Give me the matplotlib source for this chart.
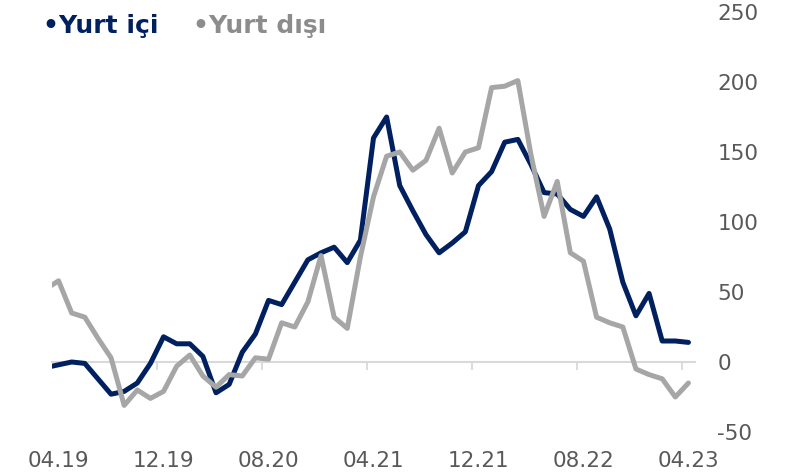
import numpy as np
import pandas as pd
import matplotlib
matplotlib.use("Agg")
import matplotlib.pyplot as plt

# monthly series, 03.19 .. 04.23 (03.19 sits just outside the visible range)
months = pd.period_range("2019-03", "2023-04", freq="M")
yurt_ici = [
    -4, -2, 0, -1, -12, -23, -21, -15, -1, 18,
    13, 13, 4, -22, -16, 7, 20, 44, 41, 57,
    73, 78, 82, 71, 87, 160, 175, 126, 108, 91,
    78, 85, 93, 126, 136, 157, 159, 141, 121, 120,
    109, 104, 118, 95, 57, 33, 49, 15, 15, 14,
]
yurt_disi = [
    52, 58, 35, 32, 17, 3, -31, -20, -26, -21,
    -3, 5, -10, -18, -9, -10, 3, 2, 28, 25,
    43, 76, 32, 24, 75, 118, 147, 150, 137, 144,
    167, 135, 150, 153, 196, 197, 201, 148, 104, 129,
    78, 72, 32, 28, 25, -5, -9, -12, -25, -15,
]
tick_labels = ["04.19", "12.19", "08.20", "04.21", "12.21", "08.22", "04.23"]
y_ticks = [-50, 0, 50, 100, 150, 200, 250]

NAVY = "#002060"
GRAY = "#a6a6a6"
TEXT = "#595959"
AXIS = "#d9d9d9"

plt.rcParams["axes.unicode_minus"] = False

W, H = 788, 475
fig = plt.figure(figsize=(W / 100, H / 100), dpi=100)
ax = fig.add_axes([52 / W, 1 - 432 / H, (695 - 52) / W, (432 - 12) / H])

x = np.arange(len(months)) - 1  # 04.19 -> 0
ax.plot(x, yurt_ici, color=NAVY, lw=3.6, solid_joinstyle="round",
        solid_capstyle="round", zorder=3)
ax.plot(x, yurt_disi, color=GRAY, lw=3.6, solid_joinstyle="round",
        solid_capstyle="round", zorder=4)

ax.set_xlim(-0.5, 48.5)
ax.set_ylim(-50, 250)
for s in ax.spines.values():
    s.set_visible(False)

# labels at the bottom, one every 8 months
lab_pos = [list(months.strftime("%m.%y")).index(t) - 1 for t in tick_labels]
ax.set_xticks(lab_pos)
ax.set_xticklabels(tick_labels)
ax.tick_params(axis="x", length=0, pad=14, labelsize=15.5, labelcolor=TEXT)

ax.yaxis.tick_right()
ax.set_yticks(y_ticks)
ax.tick_params(axis="y", length=0, pad=16, labelsize=15.5, labelcolor=TEXT)

# category axis line crossing at zero, tick marks between categories
zero_frac = (0 - (-50)) / 300
sec = ax.secondary_xaxis(zero_frac)
sec.set_xticks([p - 0.5 for p in lab_pos[1:]])
sec.set_xticklabels([])
sec.tick_params(axis="x", length=6, width=1.3, color=AXIS, direction="out")
sec.spines["bottom"].set_color(AXIS)
sec.spines["bottom"].set_linewidth(1.5)

fig.text(43 / W, 1 - 33 / H, "\u2022Yurt i\u00e7i", color=NAVY, fontsize=18,
         fontweight="bold", va="baseline")
fig.text(193 / W, 1 - 33 / H, "\u2022Yurt d\u0131\u015f\u0131", color="#8c8c8c",
         fontsize=18, fontweight="bold", va="baseline")

fig.savefig("out.png", dpi=100)
